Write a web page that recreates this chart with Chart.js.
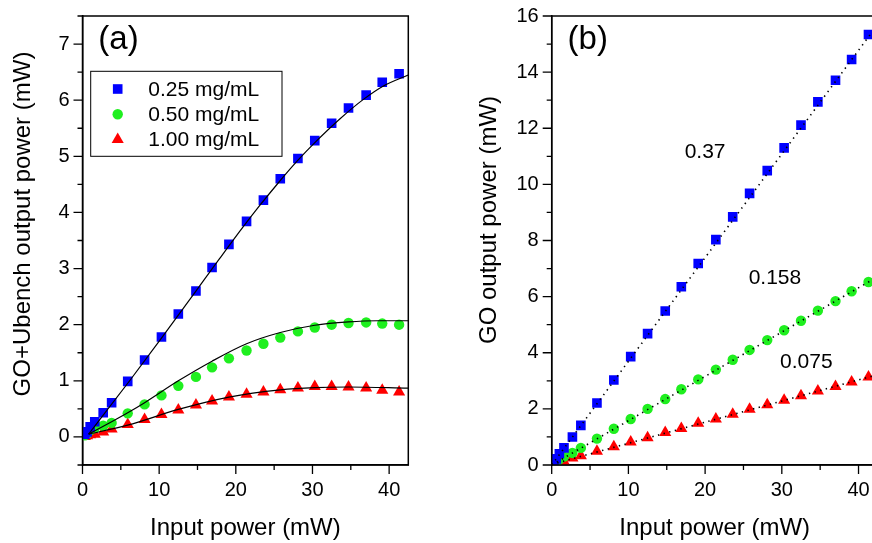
<!DOCTYPE html>
<html>
<head>
<meta charset="utf-8">
<script src="https://cdn.jsdelivr.net/npm/chart.js@4/dist/chart.umd.min.js"></script>
<style>
  html, body { margin: 0; padding: 0; background: #fff; overflow: hidden; }
  #wrap { position: relative; width: 872px; height: 543px; overflow: hidden; }
  #chartA { position: absolute; left: 0; top: 0; }
  #chartB { position: absolute; left: 440px; top: 0; }
</style>
</head>
<body>
<div id="wrap">
  <canvas id="chartA" width="440" height="543"></canvas>
  <canvas id="chartB" width="460" height="543"></canvas>
</div>
<script>
const FONT = '"Liberation Sans", Arial, sans-serif'

// input power, mW (same for every series and both panels)
const inputPower = [0.3, 0.6, 1.0, 1.6, 2.7, 3.8, 5.9, 8.1, 10.3, 12.5, 14.8, 16.9, 19.1, 21.4, 23.6, 25.8, 28.1, 30.3, 32.5, 34.7, 37.0, 39.1, 41.3]

const seriesNames = ['0.25 mg/mL', '0.50 mg/mL', '1.00 mg/mL']
const seriesColors = ['#0000ff', '#1fef1f', '#ff0000']
const seriesStyles = ['rect', 'circle', 'triangle']

// (a) GO+Ubench output power, mW
const totalOut025 = [0.05, 0.09, 0.18, 0.27, 0.43, 0.61, 0.99, 1.37, 1.78, 2.19, 2.60, 3.02, 3.43, 3.84, 4.22, 4.60, 4.96, 5.28, 5.59, 5.86, 6.09, 6.32, 6.47]
const totalOut050 = [0.03, 0.06, 0.12, 0.16, 0.20, 0.25, 0.42, 0.58, 0.74, 0.91, 1.07, 1.24, 1.40, 1.54, 1.66, 1.77, 1.88, 1.95, 2.00, 2.03, 2.04, 2.02, 2.00]
const totalOut100 = [0.01, 0.02, 0.04, 0.05, 0.09, 0.14, 0.22, 0.31, 0.40, 0.48, 0.57, 0.64, 0.71, 0.76, 0.80, 0.84, 0.87, 0.90, 0.90, 0.89, 0.87, 0.83, 0.80]

// (a) fitted curves as [input, output]
const fit025 = [[0.8, 0.05], [6.2, 1.01], [10.3, 1.76], [14.7, 2.58], [17.9, 3.18], [21.0, 3.75], [23.1, 4.12], [25.5, 4.52], [27.9, 4.90], [30.5, 5.27], [33.6, 5.67], [36.6, 6.01], [39.2, 6.25], [42.5, 6.45]]
const fit050 = [[0.8, 0.05], [3.8, 0.27], [5.9, 0.43], [8.1, 0.61], [12.5, 1.00], [16.9, 1.35], [21.4, 1.66], [25.8, 1.86], [30.3, 1.99], [34.7, 2.05], [38.5, 2.07], [42.5, 2.07]]
const fit100 = [[0.8, 0.05], [5.9, 0.21], [12.5, 0.49], [19.1, 0.71], [25.8, 0.84], [30.3, 0.88], [34.7, 0.89], [42.5, 0.87]]

// (b) GO output power, mW
const goOut025 = [0.10, 0.22, 0.40, 0.61, 1.00, 1.41, 2.21, 3.03, 3.86, 4.68, 5.49, 6.35, 7.18, 8.03, 8.84, 9.68, 10.49, 11.30, 12.11, 12.94, 13.71, 14.45, 15.34]
const goOut050 = [0.05, 0.10, 0.20, 0.30, 0.43, 0.61, 0.94, 1.29, 1.64, 2.00, 2.35, 2.70, 3.05, 3.40, 3.75, 4.10, 4.45, 4.80, 5.14, 5.50, 5.84, 6.19, 6.52]
const goOut100 = [0.02, 0.04, 0.07, 0.12, 0.25, 0.33, 0.49, 0.65, 0.82, 0.97, 1.16, 1.30, 1.49, 1.64, 1.81, 1.99, 2.15, 2.31, 2.47, 2.64, 2.80, 2.96, 3.14]

// (b) linear fits, endpoints
const lin025 = [[0, 0.0], [42.5, 15.7]]
const lin050 = [[0, 0.0], [42.5, 6.71]]
const lin100 = [[0, 0.02], [42.5, 3.22]]

// (b) slope labels, placed in data units
const slopeLabels = ['0.37', '0.158', '0.075']
const slopeLabelX = [20.0, 29.1, 33.2]
const slopeLabelY = [11.15, 6.66, 3.68]

const toPoints = (xs, ys) => xs.map((x, i) => ({ x, y: ys[i] }))
const fromPairs = (arr) => arr.map(([x, y]) => ({ x, y }))

function markerRadius (style) {
  if (style === 'rect') return 6.8
  if (style === 'circle') return 5.2
  return 7
}

function drawMarker (ctx, style, x, y, color) {
  const r = markerRadius(style)
  ctx.save()
  ctx.fillStyle = color
  ctx.beginPath()
  if (style === 'rect') {
    const s = r * Math.SQRT1_2
    ctx.rect(x - s, y - s, 2 * s, 2 * s)
  } else if (style === 'circle') {
    ctx.arc(x, y, r, 0, Math.PI * 2)
  } else {
    ctx.moveTo(x, y - r)
    ctx.lineTo(x + r * Math.sin(Math.PI * 2 / 3), y + r * 0.5)
    ctx.lineTo(x - r * Math.sin(Math.PI * 2 / 3), y + r * 0.5)
    ctx.closePath()
  }
  ctx.fill()
  ctx.restore()
}

function scatterSet (label, points, i) {
  return {
    type: 'scatter',
    label,
    data: points,
    pointStyle: seriesStyles[i],
    pointRadius: markerRadius(seriesStyles[i]),
    pointBackgroundColor: seriesColors[i],
    pointBorderWidth: 0,
    showLine: false,
    order: 2
  }
}

function fitSet (points, dashed) {
  return {
    type: 'line',
    data: points,
    borderColor: '#000',
    borderWidth: dashed ? 1.6 : 1.2,
    borderDash: dashed ? [1.4, 4.4] : [],
    cubicInterpolationMode: 'monotone',
    pointRadius: 0,
    fill: false,
    order: 1
  }
}

function isMajor (v, every) {
  const q = v / every
  return Math.abs(q - Math.round(q)) < 1e-6
}

function axis (min, max, step, major, size) {
  return {
    type: 'linear',
    min,
    max,
    border: { display: true, color: '#000', width: 1.5 },
    grid: { drawOnChartArea: false, drawTicks: true, tickLength: 9, tickColor: 'rgba(0,0,0,0)' },
    ticks: {
      stepSize: step,
      includeBounds: false,
      autoSkip: false,
      maxRotation: 0,
      padding: 4,
      color: '#000',
      font: { family: FONT, size: 20 },
      callback: (v) => isMajor(v, major) ? String(Math.round(v)) : ''
    },
    afterFit: size
  }
}

// frame, ticks, titles and labels drawn on top of the chart
function decorations (cfg) {
  return {
    id: 'decorations',
    afterDraw (chart) {
      const { ctx, chartArea: a, scales } = chart
      ctx.save()
      ctx.strokeStyle = '#000'
      ctx.lineWidth = 1.5
      ctx.strokeRect(a.left, a.top, a.right - a.left, a.bottom - a.top)

      // tick marks: long for labelled, short for the others
      ctx.lineWidth = 1.3
      ctx.beginPath()
      scales.x.ticks.forEach((t) => {
        const px = scales.x.getPixelForValue(t.value)
        const len = isMajor(t.value, cfg.xMajor) ? 9 : 5
        ctx.moveTo(px, a.bottom)
        ctx.lineTo(px, a.bottom + len)
      })
      scales.y.ticks.forEach((t) => {
        const py = scales.y.getPixelForValue(t.value)
        const len = isMajor(t.value, cfg.yMajor) ? 9 : 5
        ctx.moveTo(a.left, py)
        ctx.lineTo(a.left - len, py)
      })
      ctx.stroke()

      ctx.fillStyle = '#000'
      ctx.textAlign = 'center'
      ctx.textBaseline = 'middle'
      ctx.font = '24px ' + FONT
      ctx.fillText('Input power (mW)', (a.left + a.right) / 2, 528)
      ctx.save()
      ctx.translate(cfg.yTitleX, cfg.yTitleY)
      ctx.rotate(-Math.PI / 2)
      ctx.fillText(cfg.yTitle, 0, 0)
      ctx.restore()

      ctx.font = '33px ' + FONT
      ctx.fillText(cfg.panel, a.left + 36, 40)

      if (cfg.legend) {
        const bx = a.left + 8.2
        const by = a.top + 55.3
        ctx.fillStyle = '#fff'
        ctx.fillRect(bx, by, 191.3, 85)
        ctx.lineWidth = 1
        ctx.strokeRect(bx, by, 191.3, 85)
        ctx.font = '21px ' + FONT
        ctx.textAlign = 'left'
        seriesNames.forEach((name, i) => {
          const ry = by + 17.7 + i * 25.3
          drawMarker(ctx, seriesStyles[i], bx + 27, ry, seriesColors[i])
          ctx.fillStyle = '#000'
          ctx.fillText(name, bx + 57.6, ry + 1)
        })
      }

      if (cfg.slopes) {
        ctx.font = '21px ' + FONT
        ctx.textAlign = 'center'
        slopeLabels.forEach((txt, i) => {
          ctx.fillText(txt, scales.x.getPixelForValue(slopeLabelX[i]), scales.y.getPixelForValue(slopeLabelY[i]))
        })
      }
      ctx.restore()
    }
  }
}

Chart.defaults.font.family = FONT

new Chart(document.getElementById('chartA'), {
  type: 'scatter',
  data: {
    datasets: [
      scatterSet(seriesNames[0], toPoints(inputPower, totalOut025), 0),
      scatterSet(seriesNames[1], toPoints(inputPower, totalOut050), 1),
      scatterSet(seriesNames[2], toPoints(inputPower, totalOut100), 2),
      fitSet(fromPairs(fit025), false),
      fitSet(fromPairs(fit050), false),
      fitSet(fromPairs(fit100), false)
    ]
  },
  options: {
    responsive: false,
    animation: false,
    devicePixelRatio: 1,
    layout: { padding: { left: 0, right: 31.7, top: 13, bottom: 0 } },
    plugins: { legend: { display: false }, tooltip: { enabled: false } },
    scales: {
      x: axis(0, 42.5, 5, 10, (s) => { s.height = 78 }),
      y: axis(-0.5, 7.5, 0.5, 1, (s) => { s.width = 82.5 })
    }
  },
  plugins: [decorations({ panel: '(a)', xMajor: 10, yMajor: 1, yTitle: 'GO+Ubench output power (mW)', yTitleX: 23, yTitleY: 224, legend: true })]
})

new Chart(document.getElementById('chartB'), {
  type: 'scatter',
  data: {
    datasets: [
      scatterSet(seriesNames[0], toPoints(inputPower, goOut025), 0),
      scatterSet(seriesNames[1], toPoints(inputPower, goOut050), 1),
      scatterSet(seriesNames[2], toPoints(inputPower, goOut100), 2),
      fitSet(fromPairs(lin025), true),
      fitSet(fromPairs(lin050), true),
      fitSet(fromPairs(lin100), true)
    ]
  },
  options: {
    responsive: false,
    animation: false,
    devicePixelRatio: 1,
    layout: { padding: { left: 0, right: 22.3, top: 14, bottom: 0 } },
    plugins: { legend: { display: false }, tooltip: { enabled: false } },
    scales: {
      x: axis(0, 42.5, 5, 10, (s) => { s.height = 78 }),
      y: axis(0, 16, 1, 2, (s) => { s.width = 111.7 })
    }
  },
  plugins: [decorations({ panel: '(b)', xMajor: 10, yMajor: 2, yTitle: 'GO output power (mW)', yTitleX: 49, yTitleY: 220, slopes: true })]
})
</script>
</body>
</html>
